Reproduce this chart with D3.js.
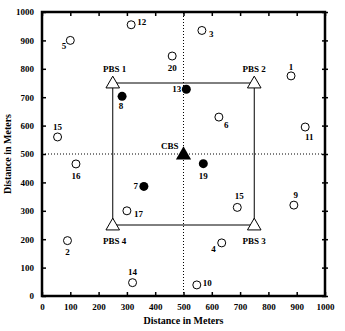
<!DOCTYPE html>
<html>
<head>
<meta charset="utf-8">
<script src="https://cdn.jsdelivr.net/npm/d3@7"></script>
<style>
  body { margin: 0; background: #fff; }
  svg { display: block; font-family: "Liberation Serif", "DejaVu Serif", serif; }
</style>
</head>
<body>
<div id="chart"></div>
<script>
// data
var ticks = [0, 100, 200, 300, 400, 500, 600, 700, 800, 900, 1000];

// open circles: [id, x, y]
var openPoints = [
  ["12", 315, 955], ["5", 100, 900], ["20", 460, 845], ["3", 565, 935],
  ["1", 880, 775], ["15", 55, 560], ["16", 120, 465], ["6", 625, 630],
  ["11", 930, 595], ["17", 300, 300], ["2", 90, 195], ["14", 320, 47],
  ["15", 690, 312], ["9", 890, 320], ["4", 635, 187], ["10", 547, 39]
];
// filled circles
var filledPoints = [
  ["8", 283, 703], ["13", 510, 728], ["7", 360, 386], ["19", 570, 466]
];
// base stations
var pbs = [["PBS 1", 250, 750], ["PBS 2", 750, 750], ["PBS 3", 750, 250], ["PBS 4", 250, 250]];
var cbs = ["CBS", 500, 500];

// label placement (pixel offsets from the mark), index-matched
var openLab = [
  [6, 0, "start"], [-4, 9, "end"], [0, 15, "middle"], [7, 7, "start"],
  [0, -6, "middle"], [0, -7, "middle"], [0, 15, "middle"], [5, 11, "start"],
  [4, 13, "middle"], [7, 6, "start"], [0, 14, "middle"], [0, -8, "middle"],
  [2, -8, "middle"], [2, -7, "middle"], [-6, 9, "end"], [6, 1, "start"]
];
var filledLab = [[-1, 13, "middle"], [-5, 3, "end"], [-6, 3, "end"], [0, 15, "middle"]];
var pbsLab = [[2, -11], [0, -11], [0, 19], [2, 19]];

var W = 345, H = 331;
var margin = {top: 12, right: 20, bottom: 35, left: 42};

var svg = d3.select("#chart").append("svg")
  .attr("width", W).attr("height", H);

var x = d3.scaleLinear().domain([0, 1000]).range([margin.left, W - margin.right]);
var y = d3.scaleLinear().domain([0, 1000]).range([H - margin.bottom, margin.top]);

// dotted center lines
svg.append("line")
  .attr("x1", x(500)).attr("x2", x(500)).attr("y1", y(0)).attr("y2", y(1000))
  .attr("stroke", "#000").attr("stroke-width", 1).attr("stroke-dasharray", "1,2");
svg.append("line")
  .attr("x1", x(0)).attr("x2", x(1000)).attr("y1", y(500)).attr("y2", y(500))
  .attr("stroke", "#000").attr("stroke-width", 1).attr("stroke-dasharray", "1,2");

// square between PBS
svg.append("path")
  .datum(pbs.concat([pbs[0]]))
  .attr("d", d3.line().x(d => x(d[1])).y(d => y(d[2])))
  .attr("fill", "none").attr("stroke", "#000").attr("stroke-width", 1);

// axes (ticks pointing inward on all sides)
var fmt = d3.format("d");
var xAxis = g => g
  .attr("transform", `translate(0,${y(0)})`)
  .call(d3.axisBottom(x).tickValues(ticks).tickSizeInner(-4).tickSizeOuter(0).tickPadding(8).tickFormat(fmt));
var yAxis = g => g
  .attr("transform", `translate(${x(0)},0)`)
  .call(d3.axisLeft(y).tickValues(ticks).tickSizeInner(-4).tickSizeOuter(0).tickPadding(8).tickFormat(fmt));
var xTop = g => g
  .attr("transform", `translate(0,${y(1000)})`)
  .call(d3.axisTop(x).tickValues(ticks).tickSizeInner(-4).tickSizeOuter(0).tickFormat(""));
var yRight = g => g
  .attr("transform", `translate(${x(1000)},0)`)
  .call(d3.axisRight(y).tickValues(ticks).tickSize(3).tickSizeOuter(0).tickFormat(""));

[xAxis, yAxis, xTop, yRight].forEach(a => {
  var g = svg.append("g").call(a);
  g.select(".domain").remove();
  g.selectAll(".tick line").attr("stroke-width", 1.5);
  g.selectAll("text").attr("font-size", 9).attr("font-weight", "bold")
    .attr("font-family", "Liberation Serif, serif").attr("fill", "#000");
});
svg.selectAll(".tick line").filter(function() {
  return this.parentNode.parentNode.getAttribute("transform") === `translate(${x(1000)},0)`;
}).attr("x1", -3);

// frame
svg.append("rect")
  .attr("x", x(0)).attr("y", y(1000))
  .attr("width", x(1000) - x(0)).attr("height", y(0) - y(1000))
  .attr("fill", "none").attr("stroke", "#000").attr("stroke-width", 2.5);

// open circles
svg.selectAll("circle.open")
  .data(openPoints).join("circle").attr("class", "open")
  .attr("cx", d => x(d[1])).attr("cy", d => y(d[2])).attr("r", 4)
  .attr("fill", "#fff").attr("stroke", "#000").attr("stroke-width", 1);

svg.selectAll("circle.filled")
  .data(filledPoints).join("circle").attr("class", "filled")
  .attr("cx", d => x(d[1])).attr("cy", d => y(d[2])).attr("r", 4.5)
  .attr("fill", "#000");

var tri = d3.symbol().type(d3.symbolTriangle).size(80);
svg.selectAll("path.pbs")
  .data(pbs).join("path").attr("class", "pbs")
  .attr("transform", d => `translate(${x(d[1])},${y(d[2]) + 1})`)
  .attr("d", tri).attr("fill", "#fff").attr("stroke", "#000").attr("stroke-width", 1);

svg.append("path")
  .attr("transform", `translate(${x(cbs[1])},${y(cbs[2]) + 1})`)
  .attr("d", d3.symbol().type(d3.symbolTriangle).size(100)).attr("fill", "#000");

// labels
function label(txt, px, py, anchor) {
  svg.append("text")
    .attr("x", px).attr("y", py)
    .attr("text-anchor", anchor)
    .attr("font-size", 9).attr("font-weight", "bold")
    .text(txt);
}
openPoints.forEach((d, i) => label(d[0], x(d[1]) + openLab[i][0], y(d[2]) + openLab[i][1], openLab[i][2]));
filledPoints.forEach((d, i) => label(d[0], x(d[1]) + filledLab[i][0], y(d[2]) + filledLab[i][1], filledLab[i][2]));
pbs.forEach((d, i) => label(d[0], x(d[1]) + pbsLab[i][0], y(d[2]) + pbsLab[i][1], "middle"));
label(cbs[0], x(cbs[1]) - 5, y(cbs[2]) - 5, "end");

// axis titles
svg.append("text")
  .attr("x", (x(0) + x(1000)) / 2).attr("y", H - 7)
  .attr("text-anchor", "middle").attr("font-size", 10).attr("font-weight", "bold")
  .text("Distance in Meters");
svg.append("text")
  .attr("transform", `translate(11,${(y(0) + y(1000)) / 2}) rotate(-90)`)
  .attr("text-anchor", "middle").attr("font-size", 10).attr("font-weight", "bold")
  .text("Distance in Meters");
</script>
</body>
</html>
